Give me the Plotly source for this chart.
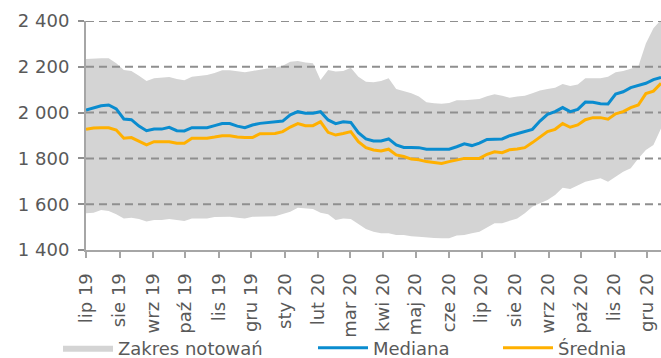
import pandas as pd
import plotly.graph_objects as go

# Weekly quotes, July 2019 - December 2020
start_date = "2019-07-01"
n_weeks = 77

median = [2011, 2022, 2030, 2033, 2016, 1972, 1969, 1941, 1921, 1928, 1928, 1936, 1921, 1920,
          1934, 1934, 1934, 1943, 1952, 1952, 1941, 1934, 1946, 1953, 1956, 1962, 1963, 1990,
          2004, 1997, 1997, 2004, 1968, 1952, 1960, 1957, 1912, 1885, 1876, 1876, 1885, 1859,
          1848, 1848, 1847, 1840, 1840, 1840, 1840, 1851, 1864, 1856, 1867, 1883, 1885, 1885,
          1899, 1908, 1917, 1927, 1963, 1992, 2004, 2022, 2004, 2014, 2046, 2045, 2039, 2038,
          2081, 2091, 2109, 2118, 2128, 2144, 2153]

mean = [1927, 1933, 1934, 1934, 1924, 1888, 1891, 1876, 1859, 1873, 1873, 1873, 1866, 1866,
        1888, 1888, 1888, 1893, 1899, 1899, 1893, 1891, 1891, 1908, 1909, 1909, 1917, 1937,
        1952, 1943, 1943, 1960, 1914, 1902, 1909, 1917, 1873, 1847, 1837, 1832, 1840, 1815,
        1808, 1797, 1794, 1786, 1782, 1778, 1786, 1794, 1800, 1800, 1800, 1818, 1829, 1825,
        1838, 1841, 1847, 1869, 1895, 1917, 1927, 1952, 1936, 1946, 1969, 1978, 1978, 1971,
        1995, 2004, 2022, 2033, 2083, 2094, 2128]

range_high = [2234, 2237, 2237, 2237, 2215, 2186, 2182, 2161, 2138, 2150, 2153, 2155, 2147, 2141,
              2157, 2160, 2164, 2173, 2185, 2185, 2179, 2176, 2182, 2189, 2193, 2196, 2205, 2222,
              2225, 2219, 2215, 2142, 2186, 2179, 2182, 2196, 2157, 2135, 2132, 2138, 2150, 2103,
              2094, 2084, 2070, 2045, 2041, 2039, 2042, 2054, 2054, 2057, 2059, 2071, 2080, 2074,
              2065, 2070, 2074, 2084, 2097, 2103, 2109, 2125, 2116, 2123, 2150, 2150, 2150, 2157,
              2176, 2182, 2193, 2201, 2302, 2368, 2405]

range_low = [1560, 1563, 1575, 1570, 1556, 1538, 1541, 1535, 1524, 1531, 1531, 1535, 1531, 1527,
             1538, 1538, 1538, 1544, 1545, 1545, 1541, 1538, 1545, 1545, 1544, 1547, 1557, 1567,
             1585, 1582, 1579, 1563, 1556, 1531, 1538, 1535, 1512, 1492, 1480, 1473, 1473, 1466,
             1466, 1460, 1458, 1454, 1452, 1451, 1451, 1463, 1466, 1473, 1480, 1498, 1517, 1517,
             1527, 1538, 1560, 1589, 1604, 1618, 1640, 1672, 1666, 1681, 1698, 1706, 1713, 1698,
             1720, 1742, 1757, 1800, 1837, 1858, 1931]

month_labels = ["lip 19", "sie 19", "wrz 19", "paź 19", "lis 19", "gru 19", "sty 20", "lut 20",
                "mar 20", "kwi 20", "maj 20", "cze 20", "lip 20", "sie 20", "wrz 20", "paź 20",
                "lis 20", "gru 20"]

y_ticks = [1400, 1600, 1800, 2000, 2200, 2400]
y_tick_labels = ["1 400", "1 600", "1 800", "2 000", "2 200", "2 400"]

dates = pd.date_range(start_date, periods=n_weeks, freq="7D")
month_starts = pd.date_range(start_date, periods=len(month_labels), freq="MS")

TEXT = "#595959"
GRID = "#8f8f8f"
AXIS = "#a6a6a6"
BAND = "#d4d4d4"
BLUE = "#0a8ccf"
ORANGE = "#ffb000"
FONT = "DejaVu Sans"

fig = go.Figure()

# Quote range band
fig.add_trace(go.Scatter(x=dates, y=range_low, mode="lines", line=dict(width=0, color=BAND),
                         showlegend=False, hoverinfo="skip"))
fig.add_trace(go.Scatter(x=dates, y=range_high, mode="lines", line=dict(width=0, color=BAND),
                         fill="tonexty", fillcolor=BAND, name="Zakres notowań",
                         legend="legend"))

# Dashed horizontal grid drawn over the band, under the series lines
for v in y_ticks[1:]:
    fig.add_trace(go.Scatter(x=[dates[0], dates[-1]], y=[v, v], mode="lines",
                             line=dict(color=GRID, width=2, dash="8px,5px"),
                             showlegend=False, hoverinfo="skip"))

fig.add_trace(go.Scatter(x=dates, y=median, mode="lines", name="Mediana",
                         line=dict(color=BLUE, width=3), legend="legend2"))
fig.add_trace(go.Scatter(x=dates, y=mean, mode="lines", name="Średnia",
                         line=dict(color=ORANGE, width=3), legend="legend3"))

legend_style = dict(orientation="h", xref="container", yref="container",
                    xanchor="left", y=0.028, yanchor="middle",
                    itemwidth=50, font=dict(size=18, color=TEXT), bgcolor="rgba(0,0,0,0)")

fig.update_layout(
    width=661, height=358,
    margin=dict(l=86, r=0, t=21, b=108),
    plot_bgcolor="white", paper_bgcolor="white",
    font=dict(family=FONT, size=18, color=TEXT),
    legend=dict(x=58 / 661, **legend_style),
    legend2=dict(x=313 / 661, **legend_style),
    legend3=dict(x=498 / 661, **legend_style),
)
fig.update_xaxes(
    range=[dates[0], dates[-1]], automargin=False,
    tickmode="array", tickvals=month_starts, ticktext=month_labels, tickangle=-90,
    ticklabelstandoff=8,
    showgrid=False, zeroline=False,
    showline=True, linecolor=AXIS, linewidth=2,
    ticks="outside", ticklen=6, tickwidth=2, tickcolor=AXIS,
)
fig.update_yaxes(
    range=[1400, 2400], automargin=False,
    tickmode="array", tickvals=y_ticks, ticktext=y_tick_labels,
    ticklabelstandoff=5,
    showgrid=False, zeroline=False,
    showline=True, linecolor=AXIS, linewidth=2,
    ticks="outside", ticklen=6, tickwidth=2, tickcolor=GRID,
)

fig.write_html("out.html")
